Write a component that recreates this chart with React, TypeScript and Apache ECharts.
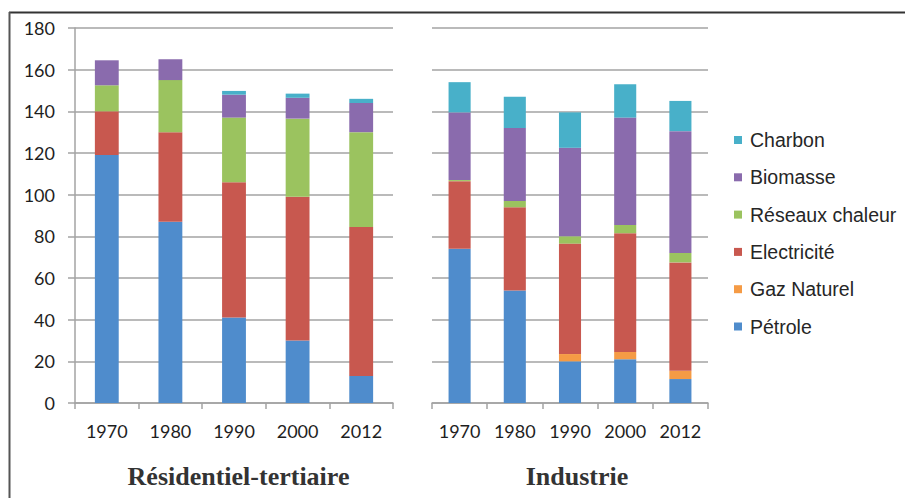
import React, { useEffect, useRef } from "react";
import * as echarts from "echarts";

const categories = ["1970", "1980", "1990", "2000", "2012"];
const yTicks = [0, 20, 40, 60, 80, 100, 120, 140, 160, 180];

const seriesNames = ["Pétrole", "Gaz Naturel", "Electricité", "Réseaux chaleur", "Biomasse", "Charbon"];
const legendOrder = ["Charbon", "Biomasse", "Réseaux chaleur", "Electricité", "Gaz Naturel", "Pétrole"];
const colors = ["#4f8ccc", "#f59b45", "#c8584f", "#9bc35f", "#8a6bad", "#48b0c9"];

// Résidentiel-tertiaire
const resPetrole = [119, 87, 41, 30, 13];
const resGaz = [0, 0, 0, 0, 0];
const resElec = [21, 43, 65, 69, 71.5];
const resReseaux = [12.5, 25, 31, 37.5, 45.5];
const resBio = [12, 10, 11, 10, 14];
const resCharbon = [0, 0, 1.8, 2, 2];

// Industrie
const indPetrole = [74, 54, 20, 21, 11.5];
const indGaz = [0, 0, 3.5, 3.5, 4];
const indElec = [32.5, 40, 53, 57, 52];
const indReseaux = [0.5, 3, 3.5, 4, 4.5];
const indBio = [32.5, 35, 42.5, 51.5, 58.5];
const indCharbon = [14.5, 15, 17, 16, 14.5];

const titles = ["Résidentiel-tertiaire", "Industrie"];

export default function App() {
  const ref = useRef<HTMLDivElement>(null);
  useEffect(() => {
    if (!ref.current) return;
    const chart = echarts.init(ref.current, null, { renderer: "svg" });
    const resData = [resPetrole, resGaz, resElec, resReseaux, resBio, resCharbon];
    const indData = [indPetrole, indGaz, indElec, indReseaux, indBio, indCharbon];
    const gray = "#a3a3a3";
    const labelFont = { fontFamily: "Lato", fontSize: 18, color: "#1e1e1e" };
    const mkX = (gi: number) => ({
      type: "category" as const,
      gridIndex: gi,
      data: categories,
      axisLine: { show: true, lineStyle: { color: gray, width: 1.5 } },
      axisTick: { show: true, length: 6, lineStyle: { color: gray, width: 1.5 } },
      axisLabel: { ...labelFont, margin: 19 },
    });
    const mkY = (gi: number, showLabels: boolean) => ({
      type: "value" as const,
      gridIndex: gi,
      min: yTicks[0],
      max: yTicks[yTicks.length - 1],
      interval: 20,
      axisLine: { show: showLabels, lineStyle: { color: gray, width: 1.5 } },
      axisTick: { show: showLabels, length: 7, lineStyle: { color: gray, width: 1.5 } },
      axisLabel: { show: showLabels, ...labelFont, margin: 20 },
      splitLine: { show: true, lineStyle: { color: gray, width: 1.5 } },
    });
    const series: any[] = [];
    seriesNames.forEach((name, i) => {
      series.push({
        name,
        type: "bar",
        stack: "res",
        xAxisIndex: 0,
        yAxisIndex: 0,
        barWidth: "37.5%",
        data: resData[i],
        itemStyle: { color: colors[i] },
      });
      series.push({
        name,
        type: "bar",
        stack: "ind",
        xAxisIndex: 1,
        yAxisIndex: 1,
        barWidth: "40%",
        data: indData[i],
        itemStyle: { color: colors[i] },
      });
    });
    chart.setOption({
      animation: false,
      color: colors,
      grid: [
        { left: 75, top: 28, width: 318, height: 375 },
        { left: 432, top: 28, width: 276, height: 375 },
      ],
      xAxis: [mkX(0), mkX(1)],
      yAxis: [mkY(0, true), mkY(1, false)],
      legend: {
        orient: "vertical",
        left: 734,
        top: 130,
        padding: 0,
        itemWidth: 8,
        itemHeight: 8,
        itemGap: 17.3,
        icon: "rect",
        data: legendOrder,
        textStyle: { fontFamily: "Liberation Sans", fontSize: 19.5, color: "#262626", padding: [0, 0, 0, 3] },
      },
      graphic: [
        { type: "line", shape: { x1: 9, y1: 12.5, x2: 905, y2: 12.5 }, style: { stroke: "#333333", lineWidth: 2 } },
        { type: "line", shape: { x1: 9.5, y1: 12, x2: 9.5, y2: 498 }, style: { stroke: "#555555", lineWidth: 2 } },
        {
          type: "text",
          x: 238.5,
          y: 476,
          style: { text: titles[0], fontFamily: "Liberation Serif", fontWeight: "bold", fontSize: 26, fill: "#333333", align: "center", verticalAlign: "middle" },
        },
        {
          type: "text",
          x: 577,
          y: 476,
          style: { text: titles[1], fontFamily: "Liberation Serif", fontWeight: "bold", fontSize: 26, fill: "#333333", align: "center", verticalAlign: "middle" },
        },
      ],
      series,
    });
    return () => chart.dispose();
  }, []);
  return <div ref={ref} style={{ position: "fixed", left: 0, top: 0, width: 906, height: 498, background: "#fff" }} />;
}
